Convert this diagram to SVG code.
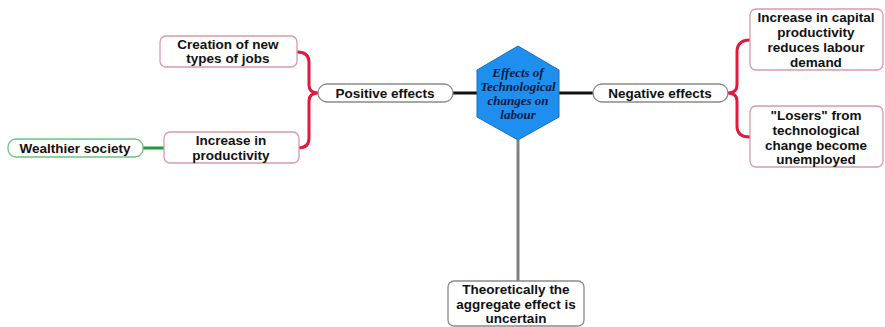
<svg xmlns="http://www.w3.org/2000/svg" width="885" height="327" viewBox="0 0 885 327">
<style>
.t{font-family:"Liberation Sans",Arial,sans-serif;font-weight:bold;font-size:13.5px;fill:#111;text-anchor:middle}
.c{font-family:"Liberation Serif","Times New Roman",serif;font-weight:bold;font-style:italic;font-size:13px;fill:#0d1a40;text-anchor:middle}
.rb{fill:#fff;stroke:#d89aa8;stroke-width:1.3}
.gb{fill:#fff;stroke:#6cc080;stroke-width:1.3}
.wb{fill:#fff;stroke:#8a8a8a;stroke-width:1.3}
.red{fill:none;stroke:#e5173f;stroke-width:3;stroke-linecap:round}
</style>
<rect width="885" height="327" fill="#fff"/>
<g id="connectors">
<line x1="453" y1="93" x2="477" y2="93" stroke="#111" stroke-width="3"/>
<line x1="559" y1="93" x2="593" y2="93" stroke="#111" stroke-width="3"/>
<line x1="518" y1="140" x2="518" y2="281" stroke="#808080" stroke-width="3"/>
<line x1="143" y1="148" x2="165" y2="148" stroke="#1e9a3c" stroke-width="3"/>
<path class="red" d="M297,52 Q309,52 309,62 L309,85 Q309,93 318,93 Q309,93 309,101 L309,138 Q309,148 298,148"/>
<path class="red" d="M750,40 Q737,40 737,52 L737,85 Q737,93 728,93 Q737,93 737,101 L737,126 Q737,137 750,137"/>
</g>
<g id="center">
<polygon points="518,46 559,70 559,117 518,140 477,117 477,70" fill="#1e8fef" stroke="#1a6fc0" stroke-width="1"/>
<text class="c" x="518" y="77">Effects of</text>
<text class="c" x="518" y="91">Technological</text>
<text class="c" x="518" y="105">changes on</text>
<text class="c" x="518" y="119">labour</text>
</g>
<g id="positive">
<rect class="wb" x="318" y="84" width="135" height="18" rx="9"/>
<text class="t" x="385" y="98">Positive effects</text>
</g>
<g id="negative">
<rect class="wb" x="593" y="84" width="135" height="18" rx="9"/>
<text class="t" x="660" y="98">Negative effects</text>
</g>
<g id="creation">
<rect class="rb" x="160" y="36" width="137" height="31" rx="6"/>
<text class="t" x="228" y="49">Creation of new</text>
<text class="t" x="228" y="63">types of jobs</text>
</g>
<g id="productivity">
<rect class="rb" x="164" y="132" width="135" height="31" rx="6"/>
<text class="t" x="231" y="145">Increase in</text>
<text class="t" x="231" y="160">productivity</text>
</g>
<g id="wealthier">
<rect class="gb" x="8" y="139" width="135" height="18" rx="8"/>
<text class="t" x="75" y="153">Wealthier society</text>
</g>
<g id="capital">
<rect class="rb" x="750" y="9" width="133" height="61" rx="6"/>
<text class="t" x="816" y="22">Increase in capital</text>
<text class="t" x="816" y="37">productivity</text>
<text class="t" x="816" y="52">reduces labour</text>
<text class="t" x="816" y="67">demand</text>
</g>
<g id="losers">
<rect class="rb" x="750" y="106" width="133" height="61" rx="6"/>
<text class="t" x="816" y="120">"Losers" from</text>
<text class="t" x="816" y="135">technological</text>
<text class="t" x="816" y="150">change become</text>
<text class="t" x="816" y="164">unemployed</text>
</g>
<g id="aggregate">
<rect class="wb" x="448" y="281" width="136" height="45" rx="6"/>
<text class="t" x="516" y="294">Theoretically the</text>
<text class="t" x="516" y="309">aggregate effect is</text>
<text class="t" x="516" y="323">uncertain</text>
</g>
</svg>
